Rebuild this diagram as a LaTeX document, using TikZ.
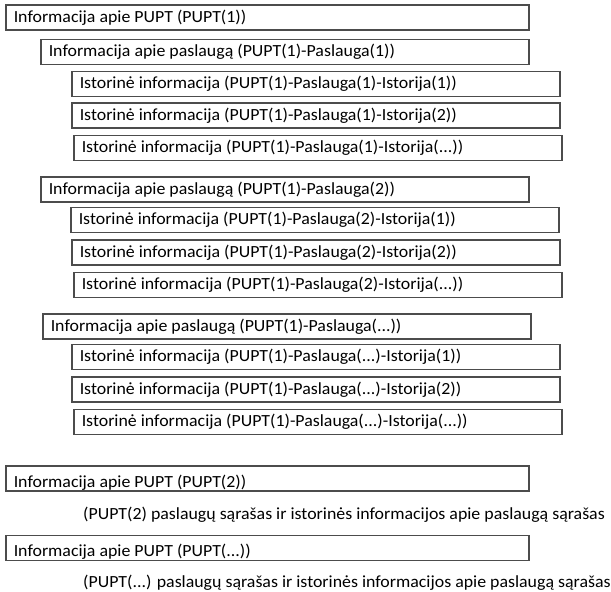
\documentclass[tikz,border=0pt]{standalone}
\usepackage{fontspec}
\setmainfont{Carlito}[FakeStretch=1.05]

\begin{document}
\begin{tikzpicture}[x=1pt,y=-1pt,font=\fontsize{17}{20}\selectfont]

    % Define node styles
    \tikzstyle{pupt_block} = [draw=black!70, line width=1.5pt, anchor=west, inner xsep=8pt, minimum height=25pt, text width=507pt, align=flush left]
    \tikzstyle{pupt_low_block} = [pupt_block, text height=17pt, text depth=0pt, inner ysep=4pt]
    \tikzstyle{service_block} = [draw=black!70, line width=1.5pt, anchor=west, inner xsep=8pt, minimum height=25pt, text width=472pt, align=flush left]
    \tikzstyle{history_block} = [draw=black!70, line width=1.5pt, anchor=west, inner xsep=8pt, minimum height=25pt, text width=472pt, align=flush left]
    \tikzstyle{list_text} = [anchor=base west, inner sep=0pt]

    \useasboundingbox (0,0) rectangle (611,592);

    % Draw nodes
    \node [pupt_block] (pupt_1) at (5,17.5) {Informacija apie PUPT (PUPT(1))};

    \node [service_block] (service_1) at (40,52) {Informacija apie paslaugą (PUPT(1)-Paslauga(1))};
    \node [history_block] (history_1_1) at (71,84) {Istorinė informacija (PUPT(1)-Paslauga(1)-Istorija(1))};
    \node [history_block] (history_1_2) at (71,115.5) {Istorinė informacija (PUPT(1)-Paslauga(1)-Istorija(2))};
    \node [history_block] (history_1_3) at (73,148) {Istorinė informacija (PUPT(1)-Paslauga(1)-Istorija(...))};

    \node [service_block] (service_2) at (40,189.5) {Informacija apie paslaugą (PUPT(1)-Paslauga(2))};
    \node [history_block] (history_2_1) at (70,220) {Istorinė informacija (PUPT(1)-Paslauga(2)-Istorija(1))};
    \node [history_block] (history_2_2) at (71,252.5) {Istorinė informacija (PUPT(1)-Paslauga(2)-Istorija(2))};
    \node [history_block] (history_2_3) at (73,285) {Istorinė informacija (PUPT(1)-Paslauga(2)-Istorija(...))};

    \node [service_block] (service_3) at (42,326.5) {Informacija apie paslaugą (PUPT(1)-Paslauga(...))};
    \node [history_block] (history_3_1) at (71,357) {Istorinė informacija (PUPT(1)-Paslauga(...)-Istorija(1))};
    \node [history_block] (history_3_2) at (71,389.5) {Istorinė informacija (PUPT(1)-Paslauga(...)-Istorija(2))};
    \node [history_block] (history_3_3) at (73,422) {Istorinė informacija (PUPT(1)-Paslauga(...)-Istorija(...))};

    \node [pupt_low_block] (pupt_2) at (5,478.5) {Informacija apie PUPT (PUPT(2))};
    \node [list_text] (pupt_2_list) at (83,519) {(PUPT(2) paslaugų sąrašas ir istorinės informacijos apie paslaugą sąrašas};

    \node [pupt_low_block] (pupt_n) at (5,548) {Informacija apie PUPT (PUPT(...))};
    \node [list_text] (pupt_n_list) at (83,587) {(PUPT(...) paslaugų sąrašas ir istorinės informacijos apie paslaugą sąrašas};

\end{tikzpicture}
\end{document}
